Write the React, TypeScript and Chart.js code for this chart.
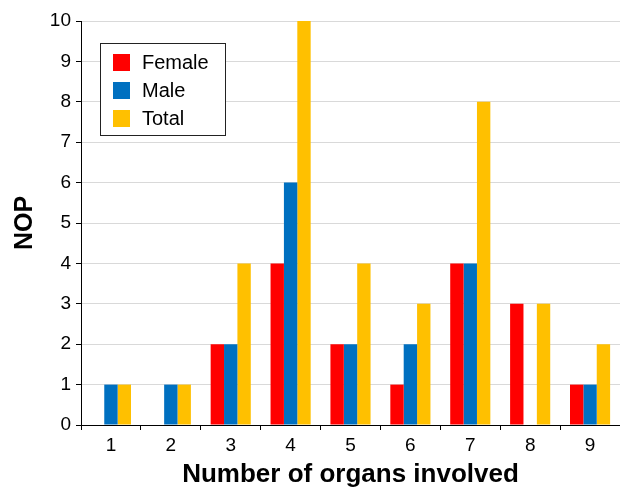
import React, { useEffect, useRef } from "react";
import { Chart, registerables } from "chart.js";

Chart.register(...registerables);

const categories = ["1", "2", "3", "4", "5", "6", "7", "8", "9"];
const female = [0, 0, 2, 4, 2, 1, 4, 3, 1];
const male = [1, 1, 2, 6, 2, 2, 4, 0, 1];
const total = [1, 1, 4, 10, 4, 3, 8, 3, 2];
const seriesNames = ["Female", "Male", "Total"];
const seriesColors = ["#FF0000", "#0070C0", "#FFC000"];

const FONT = "'Liberation Sans', Arial, Helvetica, sans-serif";

const boxLegend = {
  id: "boxLegend",
  afterDraw(chart: any) {
    const ctx = chart.ctx;
    const x = 100.5;
    const y = 43.5;
    const w = 125;
    const h = 92;
    ctx.save();
    ctx.fillStyle = "#ffffff";
    ctx.fillRect(x, y, w, h);
    ctx.strokeStyle = "#222222";
    ctx.lineWidth = 1;
    ctx.strokeRect(x, y, w, h);
    ctx.font = `20px ${FONT}`;
    ctx.textBaseline = "middle";
    ctx.textAlign = "left";
    chart.data.datasets.forEach((ds: any, i: number) => {
      const sy = 54 + i * 28;
      ctx.fillStyle = ds.backgroundColor;
      ctx.fillRect(113, sy, 17, 17);
      ctx.fillStyle = "#000000";
      ctx.fillText(ds.label, 142, sy + 9);
    });
    ctx.restore();
  },
};

export default function App() {
  const ref = useRef<HTMLCanvasElement | null>(null);
  useEffect(() => {
    if (!ref.current) return;
    const chart = new Chart(ref.current, {
      type: "bar",
      data: {
        labels: categories,
        datasets: [female, male, total].map((d, i) => ({
          label: seriesNames[i],
          data: d,
          backgroundColor: seriesColors[i],
          borderWidth: 0,
          barPercentage: 1,
          categoryPercentage: 0.67,
        })),
      },
      options: {
        responsive: false,
        animation: false,
        devicePixelRatio: 1,
        layout: { padding: { top: 21, right: 0, left: 0, bottom: 0 } },
        plugins: {
          legend: { display: false },
          tooltip: { enabled: false },
        },
        scales: {
          x: {
            afterFit: (s: any) => {
              s.height = 66;
            },
            grid: {
              drawOnChartArea: false,
              drawTicks: true,
              tickLength: 5,
              color: "#000000",
              tickColor: "#000000",
            },
            border: { color: "#000000", width: 1 },
            ticks: {
              color: "#000000",
              font: { family: FONT, size: 19 },
              padding: 4,
            },
            title: {
              display: true,
              text: "Number of organs involved",
              color: "#000000",
              font: { family: FONT, size: 26, weight: "bold" },
              padding: { top: 0, bottom: 1 },
            },
          },
          y: {
            min: 0,
            max: 10,
            afterFit: (s: any) => {
              s.width = 81;
            },
            grid: {
              color: "#d9d9d9",
              tickColor: "#000000",
              drawTicks: true,
              tickLength: 5,
            },
            border: { color: "#000000", width: 1 },
            ticks: {
              stepSize: 1,
              color: "#000000",
              font: { family: FONT, size: 19 },
              padding: 5,
            },
            title: {
              display: true,
              text: "NOP",
              color: "#000000",
              font: { family: FONT, size: 25, weight: "bold" },
              padding: { top: 10, bottom: 0 },
            },
          },
        },
      },
      plugins: [boxLegend],
    });
    return () => chart.destroy();
  }, []);
  return (
    <div style={{ position: "absolute", left: 0, top: 0, width: 620, height: 491, background: "#fff" }}>
      <canvas ref={ref} width={620} height={491} style={{ display: "block" }} />
    </div>
  );
}
